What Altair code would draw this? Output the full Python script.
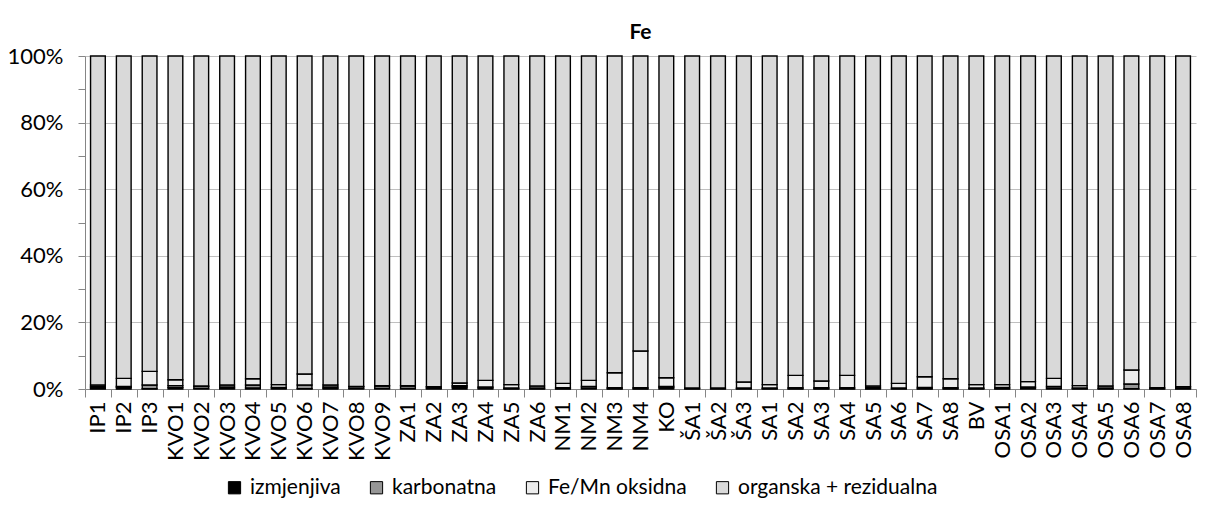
import altair as alt
import pandas as pd

cats = ["IP1", "IP2", "IP3",
        "KVO1", "KVO2", "KVO3", "KVO4", "KVO5", "KVO6", "KVO7", "KVO8", "KVO9",
        "ZA1", "ZA2", "ZA3", "ZA4", "ZA5", "ZA6",
        "NM1", "NM2", "NM3", "NM4", "KO",
        "ŠA1", "ŠA2", "ŠA3",
        "SA1", "SA2", "SA3", "SA4", "SA5", "SA6", "SA7", "SA8", "BV",
        "OSA1", "OSA2", "OSA3", "OSA4", "OSA5", "OSA6", "OSA7", "OSA8"]

izm = [0.3, 0.5, 0.1,
       0.4, 0.2, 0.2, 0.3, 0.2, 0.1, 0.2, 0.2, 0.2,
       0.2, 0.2, 0.6, 0.3, 0.1, 0.1,
       0.1, 0.3, 0.1, 0.1, 0.4,
       0.1, 0.1, 0.1,
       0.1, 0.1, 0.1, 0.1, 0.1, 0.1, 0.1, 0.1, 0.1,
       0.1, 0.3, 0.3, 0.1, 0.1, 0.1, 0.1, 0.1]

karb = [0.4, 0.3, 1.1,
        0.6, 0.6, 0.4, 0.9, 0.3, 1.1, 0.4, 0.5, 0.7,
        0.7, 0.4, 0.4, 0.3, 0.2, 0.2,
        0.3, 0.5, 0.3, 0.3, 0.4,
        0.2, 0.2, 0.2,
        0.2, 0.3, 0.3, 0.3, 0.3, 0.2, 0.4, 0.3, 0.2,
        0.4, 0.3, 0.5, 0.2, 0.2, 1.4, 0.3, 0.5]

oks = [0.5, 2.4, 4.1,
       1.8, 0.1, 0.6, 1.9, 0.8, 3.3, 0.6, 0.1, 0.1,
       0.1, 0.1, 0.8, 2.0, 1.0, 0.6,
       1.3, 1.8, 4.5, 11.0, 2.6,
       0.0, 0.0, 1.8,
       1.0, 3.7, 2.0, 3.7, 0.5, 1.4, 3.2, 2.7, 1.0,
       0.8, 1.6, 2.4, 0.7, 0.6, 4.2, 0.0, 0.1]

org = [98.8, 96.8, 94.7,
       97.2, 99.1, 98.8, 96.9, 98.7, 95.5, 98.8, 99.2, 99.0,
       99.0, 99.3, 98.2, 97.4, 98.7, 99.1,
       98.3, 97.4, 95.1, 88.6, 96.6,
       99.7, 99.7, 97.9,
       98.7, 95.9, 97.6, 95.9, 99.1, 98.3, 96.3, 96.9, 98.7,
       98.7, 97.8, 96.8, 99.0, 99.1, 94.3, 99.6, 99.3]

series = ["izmjenjiva", "karbonatna", "Fe/Mn oksidna", "organska + rezidualna"]
colors = ["#000000", "#969696", "#ececec", "#d9d9d9"]
yticks = [0, 10, 20, 30, 40, 50, 60, 70, 80, 90, 100]

rows = []
for i, c in enumerate(cats):
    for k, (name, vals) in enumerate(zip(series, [izm, karb, oks, org])):
        rows.append({"cat": c, "frac": name, "val": vals[i], "ord": k})
df = pd.DataFrame(rows)

FONT = "Lato"

chart = alt.Chart(df).mark_bar(
    stroke="black", strokeWidth=1.4, width=alt.RelativeBandSize(0.57)
).encode(
    x=alt.X("cat:N", sort=cats, title=None,
            scale=alt.Scale(paddingInner=0, paddingOuter=0),
            axis=alt.Axis(labelAngle=-90, labelAlign="right", labelBaseline="middle",
                          tickBand="extent", tickSize=8, tickColor="#868686",
                          domainColor="#868686", labelFontSize=22, labelColor="black",
                          labelFont=FONT, labelPadding=4, grid=False)),
    y=alt.Y("val:Q", stack="zero", title=None,
            scale=alt.Scale(domain=[0, 100], nice=False),
            axis=alt.Axis(values=yticks,
                          labelExpr="datum.value % 20 == 0 ? datum.value + '%' : ''",
                          grid=True, gridColor="#bfbfbf",
                          gridOpacity={"condition": {"test": "datum.value % 20 == 0", "value": 1}, "value": 0},
                          tickSize=7, tickColor="#868686", domainColor="#868686",
                          labelFontSize=22, labelColor="black", labelFont=FONT, labelPadding=15)),
    color=alt.Color("frac:N", sort=series,
                    scale=alt.Scale(domain=series, range=colors),
                    legend=alt.Legend(orient="none", legendX=139, legendY=421,
                                      direction="horizontal", title=None,
                                      symbolType="square", symbolSize=150,
                                      symbolStrokeColor="black", symbolStrokeWidth=1,
                                      labelFontSize=21, labelFont=FONT, labelColor="black",
                                      labelLimit=0, columnPadding=25, labelOffset=5)),
    order=alt.Order("ord:Q", sort="ascending"),
).properties(
    width=1111, height=333,
    title=alt.TitleParams("Fe", fontSize=21, fontWeight="bold", font=FONT, offset=2, color="black"),
    autosize=alt.AutoSizeParams(type="none"),
    padding={"left": 77, "top": 48, "right": 1, "bottom": 109},
).configure_view(stroke=None)

chart.save("out.html", embed_options={"renderer": "svg", "actions": False})
